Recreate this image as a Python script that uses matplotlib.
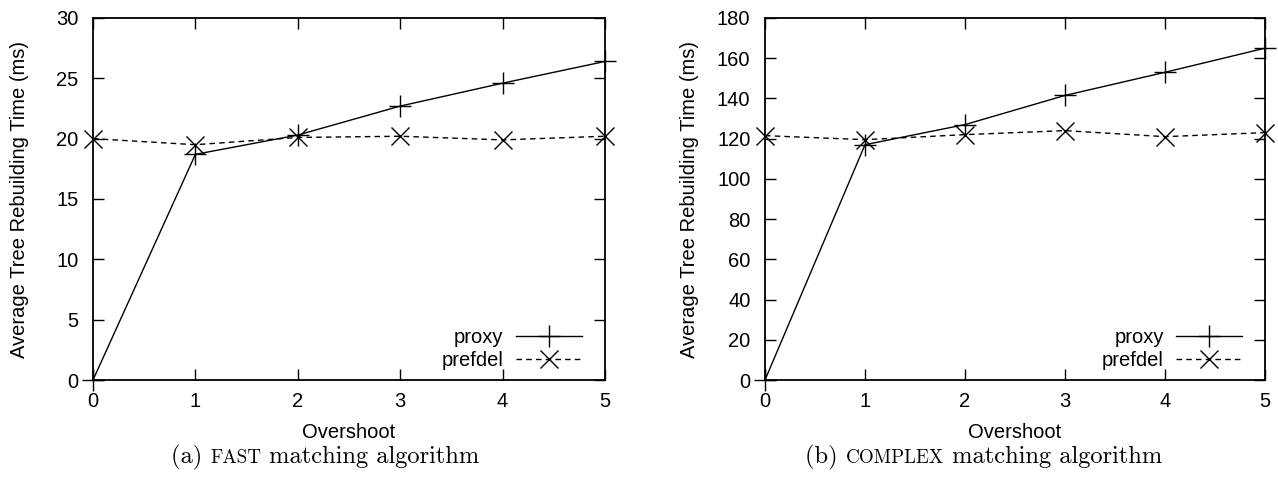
import numpy as np
import matplotlib
matplotlib.use("Agg")
import matplotlib.pyplot as plt
from matplotlib.offsetbox import TextArea, HPacker, AnchoredOffsetbox

# data
overshoot = [0, 1, 2, 3, 4, 5]
fast_proxy = [0.0, 18.7, 20.3, 22.7, 24.6, 26.4]
fast_prefdel = [20.0, 19.5, 20.1, 20.2, 19.9, 20.2]
complex_proxy = [0.0, 117.0, 127.0, 141.5, 153.0, 165.0]
complex_prefdel = [121.5, 119.5, 122.0, 124.0, 121.0, 123.0]

plt.rcParams['font.family'] = ['Liberation Sans', 'DejaVu Sans']
plt.rcParams['font.size'] = 14.5

W, H = 1278, 478
fig = plt.figure(figsize=(W / 100, H / 100), dpi=100)


def px_axes(x0, x1, y0, y1):
    return fig.add_axes([x0 / W, (H - y1) / H, (x1 - x0) / W, (y1 - y0) / H])


def setup(ax, ymax, ystep, ylab_x):
    ax.set_xlim(0, 5)
    ax.set_ylim(0, ymax)
    ax.set_xticks(overshoot)
    ax.set_yticks(np.arange(0, ymax + 1, ystep))
    ax.tick_params(direction='in', length=8, width=1, top=True, right=True)
    ax.tick_params(axis='y', pad=10.5)
    ax.tick_params(axis='x', pad=8.5)
    for s in ax.spines.values():
        s.set_linewidth(1.3)
    ax.set_xlabel('Overshoot', labelpad=9)
    ax.set_ylabel('Average Tree Rebuilding Time (ms)')
    ax.yaxis.set_label_coords(ylab_x, 0.5)


def draw(ax, proxy, prefdel):
    ax.plot(overshoot, proxy, color='black', lw=1, marker='+', ms=16, mew=1,
            label='proxy', clip_on=False)
    ax.plot(overshoot, prefdel, color='black', lw=1, ls=(0, (4, 3)), marker='x',
            ms=13, mew=1, label='prefdel', clip_on=False)
    leg = ax.legend(loc='lower right', frameon=False, markerfirst=False,
                    handlelength=3.3, handletextpad=0.6, borderaxespad=0,
                    labelspacing=0.2, bbox_to_anchor=(0.971, 0.005))
    for t in leg.get_texts():
        t.set_ha('right')


def caption(ax, label, sc, rest, xc):
    size = 17.6
    parts = [TextArea(label, textprops=dict(family='cmr10', size=size)),
             TextArea(sc, textprops=dict(family='cmr10', size=size * 0.78)),
             TextArea(rest, textprops=dict(family='cmr10', size=size))]
    box = HPacker(children=parts, align='baseline', pad=0, sep=0)
    anch = AnchoredOffsetbox(loc='center', child=box, frameon=False,
                             bbox_to_anchor=(xc / W, (H - 457) / H),
                             bbox_transform=fig.transFigure, borderpad=0, pad=0)
    ax.add_artist(anch)


ax1 = px_axes(93, 605, 18, 380)
setup(ax1, 30, 5, -0.125)
draw(ax1, fast_proxy, fast_prefdel)
caption(ax1, '(a) ', 'FAST', ' matching algorithm', 325)

ax2 = px_axes(765, 1265, 18, 380)
setup(ax2, 180, 20, -0.132)
draw(ax2, complex_proxy, complex_prefdel)
caption(ax2, '(b) ', 'COMPLEX', ' matching algorithm', 984)

fig.savefig('out.png', dpi=100)
